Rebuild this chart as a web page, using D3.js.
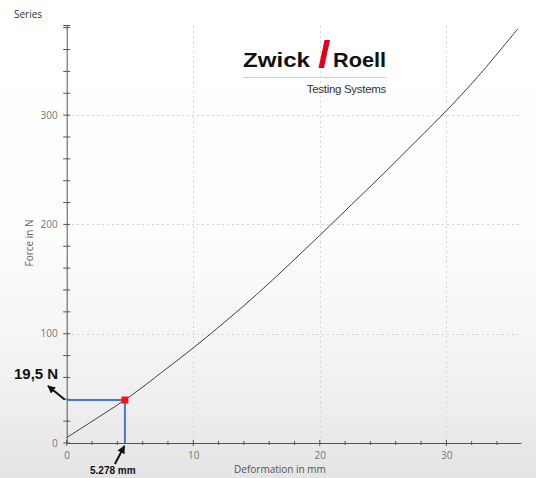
<!DOCTYPE html>
<html>
<head>
<meta charset="utf-8">
<script src="https://cdn.jsdelivr.net/npm/d3@7"></script>
<style>
  html, body { margin: 0; padding: 0; background: #fff; }
  svg { display: block; }
</style>
</head>
<body>
<svg id="chart" width="536" height="478"></svg>
<script>
// Force–deformation curve samples (mm, N)
const deformation = [0, 2.5, 5, 7.5, 10, 12.5, 15, 17.5, 20, 22.5, 25, 27.5, 30, 32.5, 35.65];
const force       = [5, 23.5, 42.6, 64.6, 87, 110.8, 135.8, 162.5, 190, 218, 246, 274.8, 304, 335.3, 379];

const xMajorTicks = [0, 10, 20, 30];
const yMajorTicks = [0, 100, 200, 300];
const xMinorTicks = d3.range(2, 36, 2).filter(v => v % 10 !== 0);
const yMinorTicks = d3.range(20, 381, 20).filter(v => v % 100 !== 0);

// Highlighted reading on the curve
const markDeformation = 4.6;
const markForce = 39.3;
const forceLabel = "19,5 N";
const deformationLabel = "5.278 mm";

const svg = d3.select("#chart");
const W = 536, H = 478;

// soft background shading
const defs = svg.append("defs");
const grad = defs.append("linearGradient")
  .attr("id", "bg").attr("x1", 0).attr("y1", 0).attr("x2", 0).attr("y2", 1);
grad.append("stop").attr("offset", "0").attr("stop-color", "#ffffff");
grad.append("stop").attr("offset", "0.5").attr("stop-color", "#fdfdfd");
grad.append("stop").attr("offset", "0.8").attr("stop-color", "#f1f1f1");
grad.append("stop").attr("offset", "1").attr("stop-color", "#e4e4e4");
svg.append("rect").attr("width", W).attr("height", H).attr("fill", "url(#bg)");

const x = d3.scaleLinear().domain([0, 35.9]).range([66.7, 521]);
const y = d3.scaleLinear().domain([0, 382]).range([443, 25.5]);

const font = "'Open Sans', 'Segoe UI', sans-serif";

// title
svg.append("text").attr("x", 14).attr("y", 17.5)
  .attr("font-family", font).attr("font-size", 10).attr("fill", "#333")
  .text("Series");

// dashed grid at major ticks
const grid = svg.append("g").attr("stroke", "#d6d6d6").attr("stroke-width", 1)
  .attr("stroke-dasharray", "2,3").attr("shape-rendering", "crispEdges");
grid.selectAll(".gx").data(xMajorTicks.filter(d => d > 0)).join("line")
  .attr("x1", d => Math.round(x(d)) + 0.5).attr("x2", d => Math.round(x(d)) + 0.5)
  .attr("y1", y(0)).attr("y2", y.range()[1]);
grid.selectAll(".gy").data(yMajorTicks.filter(d => d > 0)).join("line")
  .attr("y1", d => Math.round(y(d)) + 0.5).attr("y2", d => Math.round(y(d)) + 0.5)
  .attr("x1", x(0)).attr("x2", x.range()[1]);

// axes
const axisColor = "#555";
const xAxis = d3.axisBottom(x).tickValues(xMajorTicks).tickSize(0).tickPadding(9);
const gx = svg.append("g").attr("transform", `translate(0,${y(0)})`).call(xAxis);
gx.select(".domain").attr("stroke", axisColor);
gx.selectAll("text").attr("font-family", font).attr("font-size", 10).attr("fill", "#777");

const yAxis = d3.axisLeft(y).tickValues(yMajorTicks).tickSize(0).tickPadding(9);
const gy = svg.append("g").attr("transform", `translate(${x(0)},0)`).call(yAxis);
gy.select(".domain").attr("stroke", axisColor);
gy.selectAll("text").attr("font-family", font).attr("font-size", 10).attr("fill", "#777");

// tick marks crossing the axis lines
const ticks = svg.append("g").attr("stroke", axisColor).attr("stroke-width", 1);
ticks.selectAll(".xt").data(xMajorTicks.concat(xMinorTicks)).join("line")
  .attr("x1", d => x(d)).attr("x2", d => x(d))
  .attr("y1", d => y(0) - (d % 10 === 0 ? 3 : 2))
  .attr("y2", d => y(0) + (d % 10 === 0 ? 3 : 2));
ticks.selectAll(".yt").data(yMajorTicks.concat(yMinorTicks, [382])).join("line")
  .attr("y1", d => y(d)).attr("y2", d => y(d))
  .attr("x1", x(0) - 3.5).attr("x2", x(0) + 3.5);

// axis titles
svg.append("text").attr("x", 280).attr("y", 473).attr("text-anchor", "middle")
  .attr("font-family", font).attr("font-size", 10).attr("fill", "#555")
  .text("Deformation in mm");
svg.append("text").attr("transform", "translate(33,243) rotate(-90)")
  .attr("text-anchor", "middle")
  .attr("font-family", font).attr("font-size", 10).attr("fill", "#666")
  .text("Force in N");

// curve
const pts = deformation.map((d, i) => [d, force[i]]);
const line = d3.line().x(d => x(d[0])).y(d => y(d[1])).curve(d3.curveCatmullRom.alpha(0.5));
svg.append("path").datum(pts).attr("d", line)
  .attr("fill", "none").attr("stroke", "#2a2a2a").attr("stroke-width", 0.9);

// logo
const logo = svg.append("g");
logo.append("text").attr("x", 243).attr("y", 67)
  .attr("font-family", "'Liberation Sans', Arial, sans-serif").attr("font-weight", "bold")
  .attr("font-size", 20).attr("textLength", 67).attr("lengthAdjust", "spacingAndGlyphs")
  .attr("fill", "#111").text("Zwick");
logo.append("polygon").attr("points", "318.5,68 324,68 330,40 324.5,40").attr("fill", "#e2001a");
logo.append("text").attr("x", 333).attr("y", 67)
  .attr("font-family", "'Liberation Sans', Arial, sans-serif").attr("font-weight", "bold")
  .attr("font-size", 20).attr("textLength", 53).attr("lengthAdjust", "spacingAndGlyphs")
  .attr("fill", "#111").text("Roell");
logo.append("line").attr("x1", 243).attr("x2", 386).attr("y1", 77.5).attr("y2", 77.5)
  .attr("stroke", "#d0d0d0").attr("stroke-width", 1);
logo.append("text").attr("x", 386).attr("y", 93).attr("text-anchor", "end")
  .attr("font-family", "'Liberation Sans', Arial, sans-serif")
  .attr("font-size", 11.5).attr("letter-spacing", -0.3).attr("fill", "#333")
  .text("Testing Systems");

// highlighted reading: guide lines, marker, labels and arrows
const mx = x(markDeformation), my = y(markForce);
const ann = svg.append("g");
ann.append("line").attr("x1", x(0)).attr("x2", mx).attr("y1", my).attr("y2", my)
  .attr("stroke", "#4a74d8").attr("stroke-width", 2);
ann.append("line").attr("x1", mx).attr("x2", mx).attr("y1", my).attr("y2", y(0))
  .attr("stroke", "#4a74d8").attr("stroke-width", 2);
ann.append("rect").attr("x", mx - 3.5).attr("y", my - 3.5).attr("width", 7).attr("height", 7)
  .attr("fill", "#ff1010");

defs.append("marker").attr("id", "ah").attr("viewBox", "0 0 10 10")
  .attr("refX", 9).attr("refY", 5).attr("markerWidth", 4).attr("markerHeight", 4)
  .attr("orient", "auto")
  .append("path").attr("d", "M0,0 L10,5 L0,10 z").attr("fill", "#111");

ann.append("line").attr("x1", x(0) - 2).attr("y1", my - 0.5).attr("x2", 48).attr("y2", 386)
  .attr("stroke", "#111").attr("stroke-width", 2).attr("marker-end", "url(#ah)");
ann.append("text").attr("x", 14).attr("y", 379)
  .attr("font-family", "'Liberation Sans', Arial, sans-serif").attr("font-weight", "bold")
  .attr("font-size", 15).attr("fill", "#111").text(forceLabel);

ann.append("line").attr("x1", mx - 10).attr("y1", 464).attr("x2", mx - 0.5).attr("y2", 446)
  .attr("stroke", "#111").attr("stroke-width", 2).attr("marker-end", "url(#ah)");
ann.append("text").attr("x", 90).attr("y", 474)
  .attr("font-family", "'Liberation Sans', Arial, sans-serif").attr("font-weight", "bold")
  .attr("font-size", 10).attr("fill", "#111").text(deformationLabel);
</script>
</body>
</html>
